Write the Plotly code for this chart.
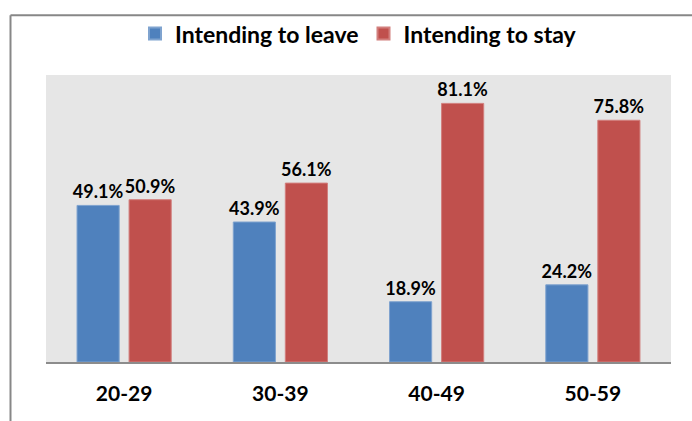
import plotly.graph_objects as go

age_groups = ["20-29", "30-39", "40-49", "50-59"]
leave_pct = [49.1, 43.9, 18.9, 24.2]
stay_pct = [50.9, 56.1, 81.1, 75.8]

FONT = "Lato"
BLUE = "#4f81bd"
RED = "#c0504d"


def pct_labels(vals):
    return [f"{v:.1f}%" for v in vals]


label_font = dict(family=FONT, size=18, color="#000000", weight="bold")

fig = go.Figure()
fig.add_trace(go.Bar(
    name="Intending to leave", x=age_groups, y=leave_pct,
    marker=dict(color=BLUE, line=dict(color="#7fa3cf", width=1)),
    text=pct_labels(leave_pct), textposition="outside",
    textfont=label_font, constraintext="none", cliponaxis=False,
))
fig.add_trace(go.Bar(
    name="Intending to stay", x=age_groups, y=stay_pct,
    marker=dict(color=RED, line=dict(color="#d27f7d", width=1)),
    text=pct_labels(stay_pct), textposition="outside",
    textfont=label_font, constraintext="none", cliponaxis=False,
))

# outer frame of the chart (left and top edges)
L, R, T, B = 46, 21, 71, 59
PW, PH = 692 - L - R, 421 - T - B
fx = (10.5 - L) / PW
fy = 1 + (T - 10.5) / PH
frame = dict(color="#878787", width=2)
fig.add_shape(type="line", xref="paper", yref="paper",
              x0=fx, x1=1.2, y0=fy, y1=fy, line=frame, layer="below")
fig.add_shape(type="line", xref="paper", yref="paper",
              x0=fx, x1=fx, y0=fy, y1=-0.5, line=frame, layer="below")

fig.update_layout(
    width=692, height=421,
    margin=dict(l=L, r=R, t=T, b=B, pad=0),
    paper_bgcolor="#ffffff", plot_bgcolor="#e6e6e6",
    barmode="group", bargap=0.334, bargroupgap=0.19,
    font=dict(family=FONT, color="#000000"),
    showlegend=True,
    legend=dict(
        orientation="h", x=0.5, xanchor="center",
        y=1 + (T - 29) / PH, yanchor="middle",
        font=dict(family=FONT, size=23, color="#000000", weight="bold"),
        bgcolor="rgba(0,0,0,0)", itemsizing="constant",
    ),
    xaxis=dict(
        showgrid=False, zeroline=False, showline=True,
        linecolor="#8c8c8c", linewidth=1.5,
        ticks="", ticklabelstandoff=12,
        tickfont=dict(family=FONT, size=21, color="#000000", weight="bold"),
    ),
    yaxis=dict(
        range=[0, 90], showgrid=False, zeroline=False,
        showline=False, showticklabels=False, ticks="",
    ),
)

fig.write_html("out.html")
